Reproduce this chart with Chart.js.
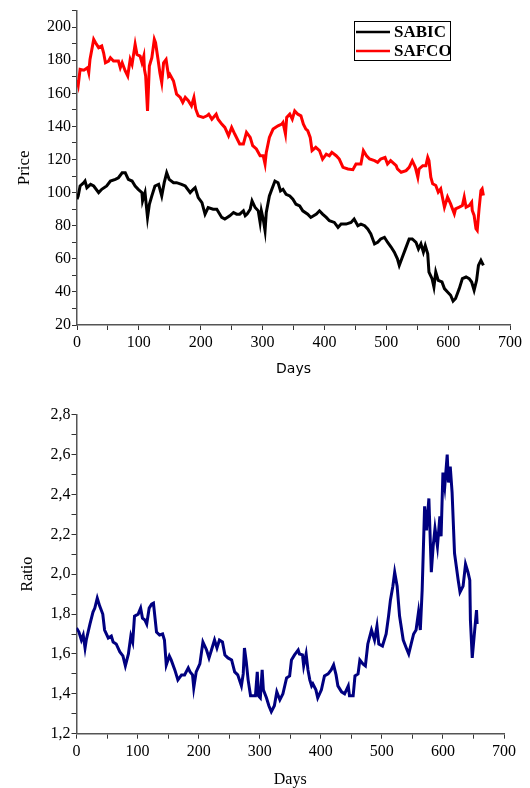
<!DOCTYPE html>
<html>
<head>
<meta charset="utf-8">
<script src="https://cdn.jsdelivr.net/npm/chart.js@4.4.1/dist/chart.umd.min.js"></script>
<style>
  body { margin: 0; background: #fff; }
  #wrap { position: relative; width: 530px; height: 788px; }
  #topBox { position: absolute; left: 0; top: 0; width: 530px; height: 390px; }
  #botBox { position: absolute; left: 0; top: 390px; width: 530px; height: 398px; }
</style>
</head>
<body>
<div id="wrap">
  <div id="topBox"><canvas id="priceChart" width="530" height="390"></canvas></div>
  <div id="botBox"><canvas id="ratioChart" width="530" height="398"></canvas></div>
</div>
<script>
// prices (day, value)
var safcoDays = [0,2,5,11,17,19,21,27,30,35,40,43,46,51,54,59,67,70,73,78,82,86,89,94,97,102,105,108,109,111,114,117,121,125,127,131,134,137,140,144,148,150,156,161,167,171,175,180,185,189,192,196,204,210,213,218,225,228,234,239,245,250,255,263,269,274,280,284,290,296,301,304,306,311,317,325,331,333,337,339,344,348,352,357,362,366,370,373,377,380,386,392,397,403,408,412,419,424,430,438,446,451,459,463,468,473,481,486,491,498,502,507,516,518,524,532,537,542,547,551,553,559,564,567,569,572,575,580,584,588,594,599,604,610,612,618,623,626,629,634,638,639,642,645,647,650,653,655,657];
var safcoPrice = [168,165,174.5,174,175.5,172.5,180.5,192.6,190.6,187.6,188.6,184.5,178.5,179.5,181.5,179.5,179.5,175.5,178.5,173.5,170.5,180.5,177.5,189.6,183.5,182.5,178.5,182.5,174.5,170.5,149.4,176.5,181.5,192.6,190.6,180.5,172.5,166.5,178.5,180.5,170.5,171.5,167.5,159.5,157.5,154.5,157.5,155.5,152.4,157.5,150.4,146.4,145.4,146.4,147.4,144.4,147.4,144.4,141.4,139.4,134.4,139.4,135.4,129.4,129.4,136.4,133.4,128.4,126.4,122.3,122.3,117.3,124.3,133.4,138.4,140.4,141.4,142.4,135.4,145.4,147.4,144.4,149.4,147.4,146.4,141.4,138.4,137.4,133.4,125.4,127.4,125.4,120.3,123.3,122.3,124.3,122.3,120.3,115.3,114.3,113.9,117.3,117.3,125.4,122.3,120.3,119.3,118.3,120.3,121.3,117.3,119.3,116.3,114.3,112.3,113.3,115.3,119.3,115.3,109.3,114.3,116.3,116.3,121.3,119.3,109.3,105.3,104.3,100.3,102.3,91.2,97.3,93.2,87.2,90.2,91.2,92.2,97.3,91.2,92.2,94.2,89.2,86.2,78.2,77.2,90.2,101.3,102.3,98.3];

var sabicDays = [0,2,5,11,13,16,22,27,35,40,48,54,62,67,73,78,83,89,94,99,105,106,110,114,117,121,126,132,137,141,145,149,156,161,169,175,183,188,191,196,202,207,212,220,226,234,239,247,253,258,263,269,272,275,280,283,288,293,296,298,301,304,306,311,315,320,325,329,333,338,344,349,354,360,365,373,378,387,392,397,403,408,416,422,427,435,443,448,454,459,465,470,475,481,486,491,497,502,508,513,518,521,525,531,537,542,548,552,556,560,563,567,569,574,577,580,584,590,594,599,604,608,612,618,623,629,634,638,642,646,649,653,657];
var sabicPrice = [96,98,104,106,107,103,105,104,100,102,104,107,108,109,112,112,108,107,104,102,100,95,100,85,93,98,104,105,98,106,112,108,106,106,105,104,100,102,103,97,94,87,91,90,90,85,84,86,88,87,87,89,86,87,90,95,91,89,82,89,84,77,88,98,102,107,106,101,102,99,98,96,93,92,89,87,85,87,89,87,85,83,82,79,81,81,82,84,80,81,80,78,75,69,70,72,73,70,67,64,60,56,60,66,72,72,70,66,69,64,68,63,52,48,43,52,47,46,42,40,38,34.5,36,42,48,49,48,46,41,47,56,59,56];

// SAFCO / SABIC ratio
var ratioDays = [0,4,8,11,14,16,22,27,30,34,38,43,46,52,57,60,65,71,76,80,85,89,92,95,101,105,108,112,115,119,123,126,131,136,141,144,147,152,155,161,166,172,177,183,186,190,192,196,202,207,213,217,221,226,230,234,239,243,248,254,259,264,270,273,275,278,281,285,289,293,296,298,301,304,306,311,315,319,324,328,333,338,344,349,352,357,363,365,370,372,376,379,382,385,387,392,395,401,406,412,417,421,425,428,434,439,445,447,453,456,461,464,469,473,477,483,488,492,495,501,507,511,514,518,521,525,529,535,540,544,548,552,556,560,563,566,570,573,577,581,584,587,591,595,597,600,603,607,609,612,615,619,625,628,633,637,641,644,645,648,652,655,656];
var ratioValue = [1.73,1.71,1.67,1.695,1.63,1.67,1.75,1.81,1.83,1.88,1.84,1.80,1.72,1.68,1.69,1.66,1.65,1.61,1.59,1.54,1.60,1.69,1.66,1.79,1.80,1.83,1.78,1.77,1.75,1.83,1.85,1.855,1.71,1.695,1.70,1.67,1.545,1.59,1.57,1.52,1.47,1.495,1.495,1.53,1.51,1.495,1.43,1.51,1.55,1.66,1.62,1.58,1.62,1.67,1.63,1.67,1.66,1.595,1.58,1.57,1.51,1.495,1.44,1.50,1.63,1.56,1.47,1.39,1.39,1.39,1.51,1.39,1.38,1.52,1.42,1.38,1.34,1.31,1.34,1.41,1.37,1.40,1.48,1.49,1.57,1.595,1.62,1.60,1.595,1.54,1.60,1.52,1.47,1.44,1.45,1.42,1.38,1.42,1.49,1.50,1.52,1.545,1.495,1.44,1.41,1.40,1.44,1.39,1.39,1.49,1.50,1.57,1.55,1.54,1.65,1.72,1.67,1.74,1.65,1.64,1.70,1.79,1.87,1.94,2.01,1.94,1.79,1.67,1.63,1.60,1.65,1.70,1.72,1.81,1.72,1.92,2.34,2.22,2.38,2.01,2.14,2.23,2.14,2.29,2.19,2.51,2.44,2.60,2.46,2.54,2.41,2.105,1.97,1.91,1.94,2.05,2.01,1.97,1.77,1.58,1.72,1.82,1.75];

function toPoints(xs, ys) {
  return xs.map(function(x, i) { return {x: x, y: ys[i]}; });
}

var serif = '"Liberation Serif", "Times New Roman", serif';
var tickFont = {family: serif, size: 16};

// boxed legend in the upper right, drawn from the datasets
var legendBox = {
  id: 'legendBox',
  afterDraw: function(chart) {
    var ctx = chart.ctx;
    ctx.save();
    ctx.strokeStyle = '#000';
    ctx.lineWidth = 1;
    ctx.strokeRect(354.5, 21.5, 96, 39);
    chart.data.datasets.forEach(function(ds, i) {
      var y = 32 + i * 19;
      ctx.strokeStyle = ds.borderColor;
      ctx.lineWidth = 2.5;
      ctx.beginPath();
      ctx.moveTo(356, y);
      ctx.lineTo(390, y);
      ctx.stroke();
      ctx.fillStyle = '#000';
      ctx.font = 'bold 17px ' + serif;
      ctx.textBaseline = 'middle';
      ctx.fillText(ds.label, 394, y + 1);
    });
    ctx.restore();
  }
};

function stepTicks(from, to, step) {
  var out = [];
  for (var v = from; v <= to + 1e-9; v += step) out.push({value: Math.round(v * 10) / 10});
  return out;
}

function axisBase() {
  return {
    type: 'linear',
    grid: {drawOnChartArea: false, tickLength: 5, color: '#333', lineWidth: 1},
    border: {color: '#555', width: 1.5},
    ticks: {font: tickFont, color: '#000', autoSkip: false, maxRotation: 0, padding: 3}
  };
}

// top chart: prices
var xTop = axisBase();
xTop.min = 0; xTop.max = 700;
xTop.afterBuildTicks = function(s) { s.ticks = stepTicks(0, 700, 50); };
xTop.afterFit = function(s) { s.height = 65; };
xTop.ticks.callback = function(v) { return v % 100 === 0 ? v : ''; };
xTop.title = {display: true, text: 'Days', color: '#000',
  font: {family: '"DejaVu Sans", Verdana, sans-serif', size: 14}, padding: {top: 0, bottom: 12}};

var yTop = axisBase();
yTop.min = 20; yTop.max = 210;
yTop.afterBuildTicks = function(s) { s.ticks = stepTicks(20, 210, 10); };
yTop.afterFit = function(s) { s.width = 77; };
yTop.ticks.padding = 1;
yTop.ticks.callback = function(v) { return (v % 20 === 0 && v <= 200) ? v : ''; };
yTop.title = {display: true, text: 'Price', color: '#000',
  font: {family: serif, size: 17}, padding: {top: 14, bottom: 0}};

new Chart(document.getElementById('priceChart').getContext('2d'), {
  type: 'line',
  data: {
    datasets: [
      {label: 'SABIC', data: toPoints(sabicDays, sabicPrice), borderColor: '#000000', borderWidth: 3, pointRadius: 0, tension: 0},
      {label: 'SAFCO', data: toPoints(safcoDays, safcoPrice), borderColor: '#ff0000', borderWidth: 3, pointRadius: 0, tension: 0}
    ]
  },
  options: {
    responsive: false,
    animation: false,
    devicePixelRatio: 1,
    layout: {padding: {top: 9, right: 20, left: 0, bottom: 0}},
    plugins: {legend: {display: false}, tooltip: {enabled: false}},
    scales: {x: xTop, y: yTop}
  },
  plugins: [legendBox]
});

// bottom chart: ratio
var xBot = axisBase();
xBot.min = 0; xBot.max = 700;
xBot.afterBuildTicks = function(s) { s.ticks = stepTicks(0, 700, 50); };
xBot.afterFit = function(s) { s.height = 54.3; };
xBot.ticks.callback = function(v) { return v % 100 === 0 ? v : ''; };
xBot.title = {display: true, text: 'Days', color: '#000',
  font: {family: serif, size: 16, lineHeight: 1}, padding: {top: 0, bottom: 0}};

var yBot = axisBase();
yBot.min = 1.2; yBot.max = 2.8;
yBot.afterBuildTicks = function(s) { s.ticks = stepTicks(1.2, 2.8, 0.1); };
yBot.afterFit = function(s) { s.width = 76.5; };
yBot.ticks.padding = 1;
yBot.ticks.callback = function(v) {
  var k = Math.round(v * 10);
  return k % 2 === 0 ? (k / 10).toFixed(1).replace('.', ',') : '';
};
yBot.title = {display: true, text: 'Ratio', color: '#000',
  font: {family: serif, size: 16}, padding: {top: 18, bottom: 0}};

new Chart(document.getElementById('ratioChart').getContext('2d'), {
  type: 'line',
  data: {
    datasets: [
      {label: 'Ratio', data: toPoints(ratioDays, ratioValue), borderColor: '#000080', borderWidth: 3, pointRadius: 0, tension: 0}
    ]
  },
  options: {
    responsive: false,
    animation: false,
    devicePixelRatio: 1,
    layout: {padding: {top: 24.7, right: 26, left: 0, bottom: 0}},
    plugins: {legend: {display: false}, tooltip: {enabled: false}},
    scales: {x: xBot, y: yBot}
  }
});
</script>
</body>
</html>
